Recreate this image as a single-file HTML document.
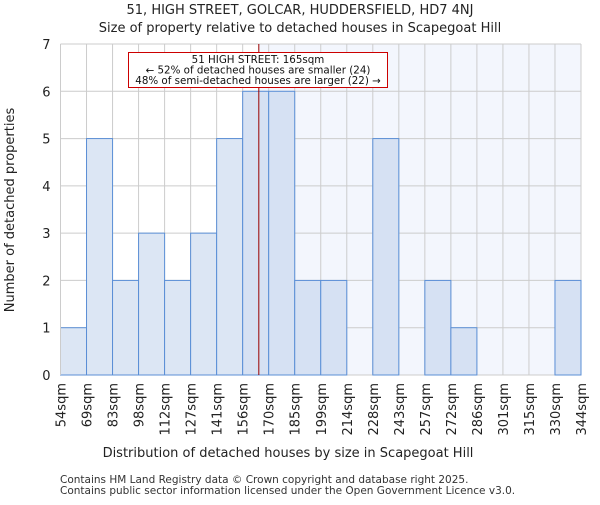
<!DOCTYPE html>
<html><head><meta charset="utf-8"><style>
body{margin:0;background:#fff;font-family:"Liberation Sans","DejaVu Sans",sans-serif}
</style></head><body>
<svg width="600" height="500" xmlns="http://www.w3.org/2000/svg" font-family="DejaVu Sans, Liberation Sans, sans-serif">
<g id="plot"></g>
</svg>
<script>
const categories=["54sqm","69sqm","83sqm","98sqm","112sqm","127sqm","141sqm","156sqm","170sqm","185sqm","199sqm","214sqm","228sqm","243sqm","257sqm","272sqm","286sqm","301sqm","315sqm","330sqm","344sqm"];
const counts=[1,5,2,3,2,3,5,6,6,2,2,0,5,0,2,1,0,0,0,2];
const yTicks=[0,1,2,3,4,5,6,7];
const markerBin=7.62;
const NS="http://www.w3.org/2000/svg";
const svg=document.querySelector('svg');
const L=60.5,R=581,T=44,B=375,ymax=7;
const bw=(R-L)/counts.length;
const x=i=>L+i*bw;
const y=v=>B-(v/ymax)*(B-T);
function el(t,a,p){const e=document.createElementNS(NS,t);for(const k in a)e.setAttribute(k,a[k]);(p||svg).appendChild(e);return e;}
const mx=x(markerBin);
let r=el('rect',{x:mx,y:T,width:R-mx,height:B-T,fill:'#f3f6fd'});


for(let i=0;i<=counts.length;i++){let g=el('line',{x1:x(i),x2:x(i),y1:T,y2:B,stroke:'#cccccc','stroke-width':1});

}
yTicks.forEach(v=>{let g=el('line',{x1:L,x2:R,y1:y(v),y2:y(v),stroke:'#cccccc','stroke-width':1});


let t=el('text',{x:L-10,y:y(v)+5,'text-anchor':'end','font-size':13,fill:'#222'});t.textContent=v;

});
counts.forEach((c,i)=>{if(c<=0)return;
let b=el('rect',{x:x(i),y:y(c),width:bw,height:B-y(c),fill:(i+1<=markerBin)?'#dce6f4':'#d6e1f3',stroke:'#5b8fd6','stroke-width':1});

});
categories.forEach((c,i)=>{let t=el('text',{transform:`translate(${x(i)+5},${B+8}) rotate(-90)`,'text-anchor':'end','font-size':13,fill:'#222'});t.textContent=c;

});
let ax=el('line',{x1:L,x2:L,y1:T,y2:B,stroke:'#cccccc'});


let ml=el('line',{x1:mx,x2:mx,y1:T,y2:B,stroke:'#990000','stroke-width':1});


let box=el('rect',{x:128.5,y:52.5,width:259,height:35,fill:'#fff',stroke:'#cc0000','stroke-width':1});


["51 HIGH STREET: 165sqm","← 52% of detached houses are smaller (24)","48% of semi-detached houses are larger (22) →"].forEach((s,i)=>{let t=el('text',{x:258,y:63+i*10.5,'text-anchor':'middle','font-size':10.3,fill:'#111'});t.textContent=s;

});
function txt(s,a,n){let t=el('text',a);t.textContent=s;

}
txt("51, HIGH STREET, GOLCAR, HUDDERSFIELD, HD7 4NJ",{x:300,y:14,'text-anchor':'middle','font-size':13,fill:'#222'},'chart-title');
txt("Size of property relative to detached houses in Scapegoat Hill",{x:300,y:32,'text-anchor':'middle','font-size':13,fill:'#222'},'chart-subtitle');
txt("Distribution of detached houses by size in Scapegoat Hill",{x:288,y:457,'text-anchor':'middle','font-size':13,fill:'#222'},'x-axis-title');
txt("Number of detached properties",{transform:'translate(14,210) rotate(-90)','text-anchor':'middle','font-size':13,fill:'#222'},'y-axis-title');
txt("Contains HM Land Registry data © Crown copyright and database right 2025.",{x:60,y:483,'font-size':10.5,fill:'#333'},'footnote-1');
txt("Contains public sector information licensed under the Open Government Licence v3.0.",{x:60,y:494,'font-size':10.5,fill:'#333'},'footnote-2');
</script>
</body></html>
